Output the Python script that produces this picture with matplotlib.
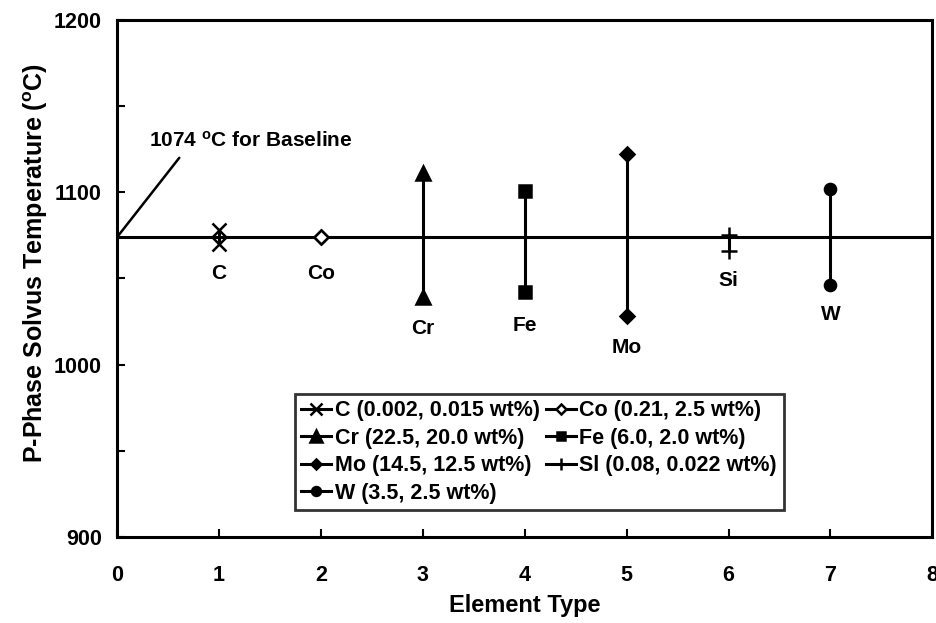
import matplotlib
matplotlib.use("Agg")
import matplotlib.pyplot as plt
from matplotlib.ticker import MultipleLocator

plt.rcParams['font.family'] = ['Liberation Sans', 'DejaVu Sans']
plt.rcParams['font.weight'] = 'bold'
plt.rcParams['mathtext.fontset'] = 'custom'
plt.rcParams['mathtext.rm'] = 'Liberation Sans:bold'
plt.rcParams['mathtext.bf'] = 'Liberation Sans:bold'
plt.rcParams['mathtext.it'] = 'Liberation Sans:bold'

# element positions and the two solvus temperatures
elements = ['C', 'Co', 'Cr', 'Fe', 'Mo', 'Si', 'W']
xpos = [1, 2, 3, 4, 5, 6, 7]
temp_a = [1078, 1074, 1111, 1101, 1122, 1075, 1102]
temp_b = [1070, 1074, 1039, 1042, 1028, 1066, 1046]
legend_text = ['C (0.002, 0.015 wt%)', 'Co (0.21, 2.5 wt%)', 'Cr (22.5, 20.0 wt%)',
               'Fe (6.0, 2.0 wt%)', 'Mo (14.5, 12.5 wt%)', 'Sl (0.08, 0.022 wt%)',
               'W (3.5, 2.5 wt%)']
label_y = [1053, 1053, 1021, 1023, 1010, 1049, 1029]
baseline = 1074

markers = ['x', 'D', '^', 's', 'D', '+', 'o']
msizes = [10, 7, 10, 8, 7, 11, 8]
faces = ['k', 'white', 'k', 'k', 'k', 'k', 'k']

fig = plt.figure(figsize=(9.37, 6.23), dpi=100)
ax = fig.add_axes([0.125, 0.138, 0.87, 0.83])

ax.plot([0, 8], [baseline, baseline], color='k', lw=2.2, zorder=1)

handles = []
for i in range(len(elements)):
    h, = ax.plot([xpos[i], xpos[i]], [temp_a[i], temp_b[i]], color='k', lw=2.2,
                 marker=markers[i], ms=msizes[i], mfc=faces[i], mec='k', mew=1.8,
                 label=legend_text[i], zorder=3)
    handles.append(h)
    ax.text(xpos[i], label_y[i], elements[i], ha='center', va='center', fontsize=15)

ax.annotate('', xy=(0, baseline), xytext=(0.61, 1120),
            arrowprops=dict(arrowstyle='-', color='k', lw=1.8, shrinkA=0, shrinkB=0))
ax.text(0.31, 1130, '1074 $^{o}$C for Baseline', fontsize=15, va='center')

ax.set_xlim(0, 8)
ax.set_ylim(900, 1200)
ax.xaxis.set_major_locator(MultipleLocator(1))
ax.yaxis.set_major_locator(MultipleLocator(100))
ax.yaxis.set_minor_locator(MultipleLocator(50))
ax.tick_params(direction='in', length=6, width=1.5, labelsize=15.5)
ax.tick_params(axis='x', pad=20)
ax.tick_params(axis='y', pad=11)
ax.tick_params(which='minor', direction='in', length=6, width=1.5)
for s in ax.spines.values():
    s.set_linewidth(2.2)

ax.set_xlabel('Element Type', fontsize=17, fontweight='bold')
ax.set_ylabel('P-Phase Solvus Temperature ($^{o}$C)', fontsize=18, fontweight='bold')
ax.xaxis.set_label_coords(0.5, -0.11)
ax.yaxis.set_label_coords(-0.082, 0.53)

order = [0, 2, 4, 6, 1, 3, 5]
leg = ax.legend([handles[k] for k in order], [legend_text[k] for k in order],
                ncol=2, loc='lower left', bbox_to_anchor=(0.218, 0.052),
                borderaxespad=0, fontsize=15.5, frameon=True, fancybox=False,
                edgecolor='k', handlelength=1.4, handletextpad=0.15,
                columnspacing=0.3, labelspacing=0.3, borderpad=0.3,
                markerscale=0.8)
leg.get_frame().set_linewidth(2)

fig.savefig('out.png', dpi=100)
